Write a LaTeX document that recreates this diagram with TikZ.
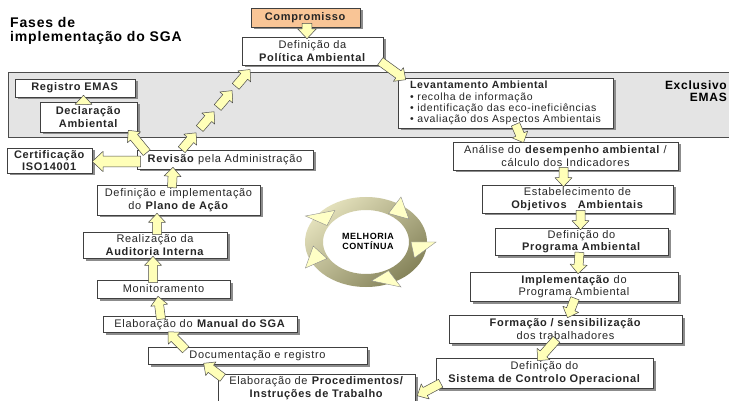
\documentclass[tikz,border=0pt]{standalone}
\usepackage{fontspec}
\setmainfont{Liberation Sans}[LetterSpace=6]
\usepackage{xcolor}
\usepackage{tikz}
\usetikzlibrary{calc, shadows}

\definecolor{paleyellow}{HTML}{FFFFB8}
\definecolor{comporange}{HTML}{F9C596}
\definecolor{bandgray}{HTML}{E4E4E4}
\definecolor{ringlight}{HTML}{E4E1BC}
\definecolor{ringdark}{HTML}{85835A}

\newcommand{\boxfont}{\fontsize{11}{12.5}\selectfont}

% fat yellow arrow from #2 to #3, #1 scales it
\newcommand{\blockarrow}[3][1]{%
  \coordinate (ba-s) at #2;
  \coordinate (ba-e) at #3;
  \coordinate (ba-n) at ($(ba-e)!#1*9pt!(ba-s)$);
  \draw[blockarr] ($(ba-s)!#1*4.5pt!90:(ba-e)$) -- ($(ba-n)!#1*4.5pt!-90:(ba-s)$)
    -- ($(ba-n)!#1*8.5pt!-90:(ba-s)$) -- (ba-e) -- ($(ba-n)!#1*8.5pt!90:(ba-s)$)
    -- ($(ba-n)!#1*4.5pt!90:(ba-s)$) -- ($(ba-s)!#1*4.5pt!-90:(ba-e)$) -- cycle;
}

\tikzset{
  box/.style={draw=black!75, line width=0.6pt, fill=white, align=center,
    inner sep=0.5pt, font=\boxfont, text=black!85,
    drop shadow={shadow xshift=2.5pt, shadow yshift=-2.5pt, opacity=1, fill=black!45}},
  blockarr/.style={draw=black!70, line width=0.5pt, fill=paleyellow, line join=round},
  ringhead/.style={draw=black!45, line width=0.4pt, fill=paleyellow!80!white},
}

\begin{document}
\begin{tikzpicture}[x=1pt, y=-1pt]
        \useasboundingbox (0,0) rectangle (729,401);
        \fill[white] (0,0) rectangle (729,401);

        % Draw the title
        \node[anchor=north west, inner sep=0pt, align=left, font=\fontsize{14}{14.5}\selectfont\bfseries] (title) at (10,17) {Fases de\\implementação do SGA};

        % Draw the EMAS band
        \draw[black!70, fill=bandgray, line width=0.6pt] (8,72) rectangle (745,137);
        \node[anchor=north east, inner sep=0pt, align=right, font=\fontsize{12}{11.5}\selectfont\bfseries] (excl) at (727,81) {Exclusivo\\EMAS};

        % Draw the boxes on the top and right
        \node[box, fill=comporange, minimum width=109pt, minimum height=19pt] (comp) at (305.5,17.5) {\textbf{Compromisso}};
        \node[box, minimum width=141pt, minimum height=28pt] (pol) at (312.5,51) {Definição da\\\textbf{Política Ambiental}};
        \node[box, align=left, minimum width=215pt, minimum height=50pt, font=\fontsize{10.5}{11.3}\selectfont] (lev) at (505.5,103) {\textbf{Levantamento Ambiental}\\\textbullet\ recolha de informação\\\textbullet\ identificação das eco-ineficiências\\\textbullet\ avaliação dos Aspectos Ambientais};
        \node[box, minimum width=225pt, minimum height=28pt] (ana) at (565.5,156) {Análise do \textbf{desempenho ambiental} /\\cálculo dos Indicadores};
        \node[box, minimum width=191pt, minimum height=28pt] (est) at (577.5,199) {Estabelecimento de\\\textbf{Objetivos\ \ \ Ambientais}};
        \node[box, minimum width=173pt, minimum height=27pt] (prog) at (581.5,241.5) {Definição do\\\textbf{Programa Ambiental}};
        \node[box, minimum width=208pt, minimum height=29pt] (impl) at (574,286.5) {\textbf{Implementação} do\\Programa Ambiental};
        \node[box, minimum width=233pt, minimum height=28pt] (form) at (565.5,329) {\textbf{Formação / sensibilização}\\dos trabalhadores};
        \node[box, minimum width=217pt, minimum height=30pt] (sis) at (544.5,373) {Definição do\\\textbf{Sistema de Controlo Operacional}};

        % Draw the boxes on the bottom and left
        \node[box, minimum width=197pt, minimum height=28pt] (proc) at (316.5,388) {Elaboração de \textbf{Procedimentos/}\\\textbf{Instruções de Trabalho}};
        \node[box, minimum width=219pt, minimum height=17pt] (doc) at (257.5,355.5) {Documentação e registro};
        \node[box, minimum width=194pt, minimum height=16pt] (man) at (200,324.5) {Elaboração do \textbf{Manual do SGA}};
        \node[box, minimum width=133pt, minimum height=18pt] (mon) at (163.5,289) {Monitoramento};
        \node[box, minimum width=144pt, minimum height=26pt] (aud) at (155,245) {Realização da\\\textbf{Auditoria Interna}};
        \node[box, minimum width=163pt, minimum height=30pt] (plano) at (178.5,200) {Definição e implementação\\do \textbf{Plano de Ação}};
        \node[box, minimum width=176pt, minimum height=19pt] (rev) at (225,159.5) {\textbf{Revisão} pela Administração};
        \node[box, minimum width=85pt, minimum height=25pt] (cert) at (49.5,160.5) {\textbf{Certificação}\\\textbf{ISO14001}};
        \node[box, minimum width=97pt, minimum height=30pt] (decl) at (88.5,117) {\textbf{Declaração}\\\textbf{Ambiental}};
        \node[box, minimum width=120pt, minimum height=18pt] (reg) at (75,88) {\textbf{Registro EMAS}};

        % Draw the arrows between the phases
        \blockarrow[1.1]{($(comp.south)+(1.5,-4)$)}{($(pol.north)+(-5.5,2)$)}
        \blockarrow{($(pol.south east)+(-3,-4)$)}{($(lev.north west)+(8,2)$)}
        \blockarrow{($(lev.south)+(10,-4)$)}{($(ana.north)+(-42,1)$)}
        \blockarrow{($(ana.south)+(-2,-3)$)}{($(est.north)+(-14,2)$)}
        \blockarrow{($(est.south)+(3,-3)$)}{($(prog.north)+(-1,2)$)}
        \blockarrow{($(prog.south)+(-2,-3)$)}{($(impl.north)+(4,2)$)}
        \blockarrow{($(impl.south)+(1,-3)$)}{($(form.north)+(2,3)$)}
        \blockarrow{($(form.south)+(-9,-4)$)}{($(sis.north)+(-7,3)$)}
        \blockarrow{($(sis.south west)+(5,-5)$)}{($(proc.north east)+(2,22)$)}
        \blockarrow{($(proc.north west)+(5,4)$)}{($(doc.south west)+(56,-1)$)}
        \blockarrow{($(doc.north west)+(38,3)$)}{($(man.south)+(-32,-1)$)}
        \blockarrow{($(man.north)+(-39,3)$)}{($(mon.south)+(-5.5,-2)$)}
        \blockarrow{($(mon.north)+(-10.5,3)$)}{($(aud.south)+(-2,-2)$)}
        \blockarrow{($(aud.north)+(2,3)$)}{($(plano.south)+(-21.5,-2)$)}
        \blockarrow{($(plano.north)+(-6.5,3)$)}{($(rev.south)+(-52,-2)$)}
        \blockarrow[1.2]{($(rev.west)+(4,2)$)}{($(cert.east)+(0,1)$)}
        \blockarrow{($(rev.north west)+(10,3)$)}{($(decl.south east)+(-9,-2)$)}
        \blockarrow{($(decl.north)+(-5,3)$)}{($(reg.south)+(8.5,-2)$)}

        % Draw the chain from the review back to the policy
        \coordinate (chain-a) at ($(rev.north west)+(45,0)$);
        \coordinate (chain-b) at ($(pol.south west)+(12,0)$);
        \foreach \i in {0,...,3} {
            \pgfmathsetmacro\fa{\i/4}
            \pgfmathsetmacro\fb{(\i+0.8)/4}
            \blockarrow{($(chain-a)!\fa!(chain-b)$)}{($(chain-a)!\fb!(chain-b)$)}
        }

        % Draw the cycle of continuous improvement
        \shade[even odd rule, top color=ringlight, bottom color=ringdark, shading angle=40]
            (366,242) ellipse [x radius=61, y radius=45]
            (366,242) ellipse [x radius=43, y radius=32];
        \foreach \t in {150,60,0,-60,-150} {
            \draw[ringhead] ({366+45*cos(\t)},{242-33*sin(\t)}) -- ({366+70*cos(\t)},{242-52*sin(\t)})
                -- ({366+53*cos(\t-24)},{242-39*sin(\t-24)}) -- cycle;
        }
        \node[align=center, inner sep=0pt, font=\fontsize{9}{10}\selectfont\bfseries] (melh) at (368,241) {MELHORIA\\CONTÍNUA};
    \end{tikzpicture}
\end{document}
